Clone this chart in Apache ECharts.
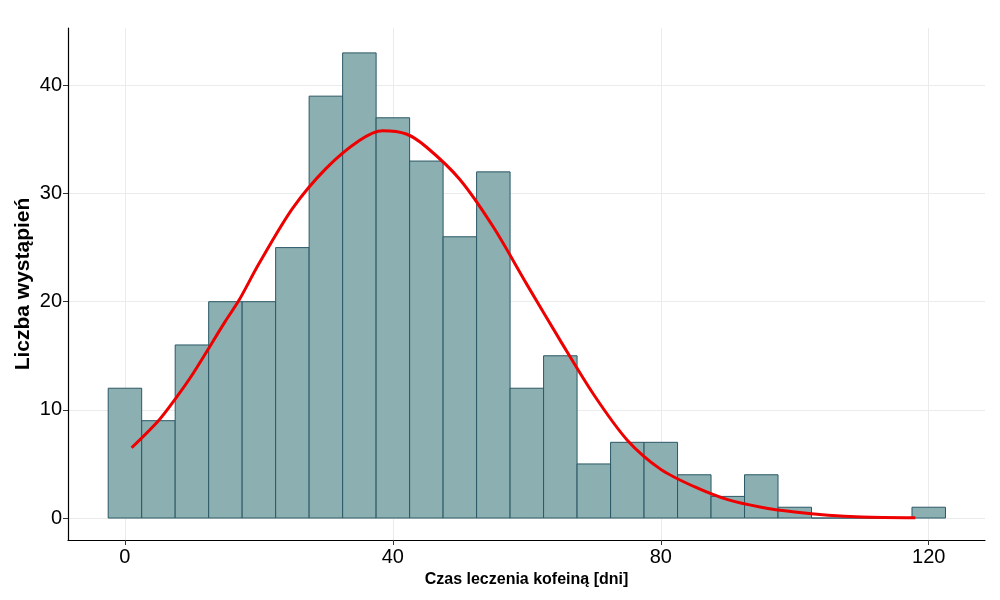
<!DOCTYPE html>
<html><head><meta charset="utf-8">
<script src="https://cdn.jsdelivr.net/npm/echarts@6/dist/echarts.min.js"></script>
<style>html,body{margin:0;padding:0;background:#fff}#c{width:1000px;height:600px}</style>
</head><body><div id="c"></div>
<script>
const binCenters = [0,5,10,15,20,25,30,35,40,45,50,55,60,65,70,75,80,85,90,95,100,105,110,115,120];
const counts     = [12,9,16,20,20,25,39,43,37,33,26,32,12,15,5,7,7,4,2,4,1,0,0,0,1];
const curveX = [1,5,7.5,10,15,17,20,25,30,35,38.5,42,45,50,55,60,65,70,75,80,85,90,95,100,105,110,118];
const curveY = [6.5,9.0,11.0,13.2,18.2,20.1,23.5,28.6,32.3,34.9,35.8,35.5,34.3,31.3,26.9,21.6,16.4,11.4,7.2,4.5,2.9,1.7,1.0,0.55,0.25,0.1,0.03];
const xTicks = [0,40,80,120];
const yTicks = [0,10,20,30,40];
const binWidth = 5;

const chart = echarts.init(document.getElementById('c'));
const font = 'Liberation Sans, Arial, sans-serif';
chart.setOption({
  animation:false,
  backgroundColor:'#fff',
  grid:{left:68,right:15,top:28,bottom:60,containLabel:false},
  xAxis:{type:'value',min:-8.5,max:128.4,
    name:'Czas leczenia kofeiną [dni]',nameLocation:'middle',nameGap:31,
    nameTextStyle:{fontFamily:font,fontWeight:'bold',fontSize:16,color:'#000'},
    axisLine:{show:true,onZero:false,lineStyle:{color:'#000',width:1.2}},
    axisTick:{show:true,length:5,customValues:xTicks,lineStyle:{color:'#333'}},
    axisLabel:{customValues:xTicks,fontFamily:font,fontSize:20,color:'#000',margin:7},
    splitLine:{show:true,lineStyle:{color:'#EBEBEB',width:1}}
  },
  yAxis:{type:'value',min:-2.03,max:45.3,
    name:'Liczba wystąpień',nameLocation:'middle',nameGap:34,nameMoveOverlap:false,
    nameTextStyle:{fontFamily:font,fontWeight:'bold',fontSize:21,color:'#000'},
    axisLine:{show:true,onZero:false,lineStyle:{color:'#000',width:1.2}},
    axisTick:{show:true,length:5,customValues:yTicks,lineStyle:{color:'#333'}},
    axisLabel:{customValues:yTicks,fontFamily:font,fontSize:20,color:'#000',margin:6},
    splitLine:{show:true,lineStyle:{color:'#EBEBEB',width:1}}
  },
  series:[
    {type:'custom',
     data:binCenters.map((c,i)=>[c,counts[i]]),
     encode:{x:0,y:1},
     renderItem:function(params,api){
       const c=api.value(0), v=api.value(1);
       const p0=api.coord([c-binWidth/2,0]);
       const p1=api.coord([c+binWidth/2,v]);
       return {type:'rect',shape:{x:p0[0],y:p1[1],width:p1[0]-p0[0],height:p0[1]-p1[1]},
         style:{fill:'#8CAFB1',stroke:'#2B5866',lineWidth:1}};
     },z:2},
    {type:'line',data:curveX.map((x,i)=>[x,curveY[i]]),smooth:0.3,symbol:'none',
     lineStyle:{color:'#EE0000',width:3},z:3}
  ]
});
</script></body></html>
